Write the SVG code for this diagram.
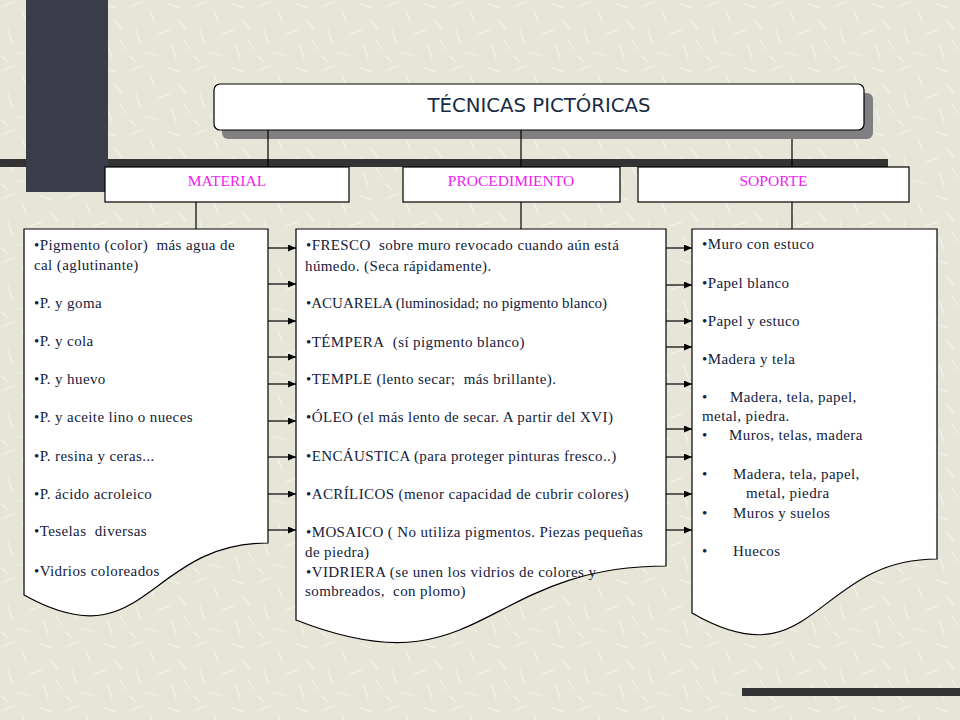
<svg xmlns="http://www.w3.org/2000/svg" width="960" height="720" viewBox="0 0 960 720">
<defs>
<pattern id="tex" width="64" height="64" patternUnits="userSpaceOnUse">
<rect width="64" height="64" fill="#e6e5d8"/>
<g stroke="#f3f2ea" stroke-width="1.3" stroke-linecap="round">
<line x1="4" y1="6" x2="14" y2="2"/>
<line x1="22" y1="10" x2="26" y2="22"/>
<line x1="40" y1="4" x2="52" y2="8"/>
<line x1="8" y1="30" x2="12" y2="42"/>
<line x1="30" y1="34" x2="42" y2="30"/>
<line x1="50" y1="20" x2="58" y2="30"/>
<line x1="18" y1="52" x2="30" y2="56"/>
<line x1="44" y1="46" x2="48" y2="58"/>
<line x1="56" y1="40" x2="62" y2="50"/>
<line x1="2" y1="56" x2="8" y2="62"/>
</g>
</pattern>
<marker id="arr" markerUnits="userSpaceOnUse" markerWidth="8" markerHeight="7" refX="8" refY="3.5" orient="auto">
<path d="M0,0 L8,3.5 L0,7 Z" fill="#000"/>
</marker>
<style>
.box{fill:#fff;stroke:#000;stroke-width:1.2}
.hdr{font-family:"Liberation Serif","Times New Roman",serif;font-size:15.5px;fill:#f01cf0;text-anchor:middle}
.body{font-family:"Liberation Serif","Times New Roman",serif;font-size:15px;fill:#13213b;letter-spacing:0.4px}
.ln{stroke:#000;stroke-width:1.2;fill:none}
.ar{stroke:#000;stroke-width:1.2;fill:none;marker-end:url(#arr)}
</style>
</defs>
<rect width="960" height="720" fill="url(#tex)"/>
<rect x="0" y="159" width="888" height="8" fill="#333333"/>
<rect x="26" y="0" width="82" height="192" fill="#3a3c4a"/>
<rect x="742" y="688" width="218" height="8" fill="#333333"/>

<g id="title">
<rect x="222" y="93" width="651" height="46" rx="6" fill="#808080"/>
<rect x="214" y="84" width="650" height="46" rx="6" class="box"/>
<text x="539" y="112" font-family="'DejaVu Sans',Verdana,sans-serif" font-size="19" fill="#1a2b45" text-anchor="middle" textLength="223" lengthAdjust="spacingAndGlyphs">TÉCNICAS PICTÓRICAS</text>
</g>

<g id="connectors">
<line class="ln" x1="268" y1="130" x2="268" y2="167"/>
<line class="ln" x1="521" y1="130" x2="521" y2="167"/>
<line class="ln" x1="792" y1="139" x2="792" y2="167"/>
<line class="ln" x1="196" y1="202" x2="196" y2="229"/>
<line class="ln" x1="521" y1="202" x2="521" y2="229"/>
<line class="ln" x1="792" y1="202" x2="792" y2="229"/>
<line class="ar" x1="268" y1="248" x2="296" y2="248"/>
<line class="ar" x1="268" y1="284" x2="296" y2="284"/>
<line class="ar" x1="268" y1="321" x2="296" y2="321"/>
<line class="ar" x1="268" y1="357" x2="296" y2="357"/>
<line class="ar" x1="268" y1="384" x2="296" y2="384"/>
<line class="ar" x1="268" y1="421" x2="296" y2="421"/>
<line class="ar" x1="268" y1="457" x2="296" y2="457"/>
<line class="ar" x1="268" y1="494" x2="296" y2="494"/>
<line class="ar" x1="268" y1="530" x2="296" y2="530"/>
<line class="ar" x1="666" y1="248" x2="692" y2="248"/>
<line class="ar" x1="666" y1="285" x2="692" y2="285"/>
<line class="ar" x1="666" y1="321" x2="692" y2="321"/>
<line class="ar" x1="666" y1="347" x2="692" y2="347"/>
<line class="ar" x1="666" y1="384" x2="692" y2="384"/>
<line class="ar" x1="666" y1="429" x2="692" y2="429"/>
<line class="ar" x1="666" y1="457" x2="692" y2="457"/>
<line class="ar" x1="666" y1="494" x2="692" y2="494"/>
<line class="ar" x1="666" y1="530" x2="692" y2="530"/>
</g>

<g id="h-material">
<rect x="105" y="167" width="244" height="35" class="box"/>
<text x="227" y="186" class="hdr">MATERIAL</text>
</g>
<g id="h-procedimiento">
<rect x="403" y="167" width="217" height="35" class="box"/>
<text x="511" y="186" class="hdr">PROCEDIMIENTO</text>
</g>
<g id="h-soporte">
<rect x="638" y="167" width="271" height="35" class="box"/>
<text x="773.5" y="186" class="hdr">SOPORTE</text>
</g>

<g id="material">
<path class="box" d="M24,229 H268 V543 C146,543 146,663 24,595 Z"/>
<text class="body">
<tspan x="34" y="250">•Pigmento (color)&#160; más agua de</tspan>
<tspan x="34" y="270">cal (aglutinante)</tspan>
<tspan x="34" y="308">•P. y goma</tspan>
<tspan x="34" y="346">•P. y cola</tspan>
<tspan x="34" y="384">•P. y huevo</tspan>
<tspan x="34" y="422">•P. y aceite lino o nueces</tspan>
<tspan x="34" y="461">•P. resina y ceras...</tspan>
<tspan x="34" y="499">•P. ácido acroleico</tspan>
<tspan x="34" y="536">•Teselas&#160; diversas</tspan>
<tspan x="34" y="576">•Vidrios coloreados</tspan>
</text>
</g>

<g id="procedimiento">
<path class="box" d="M296,229 H666 V566 C481,566 481,693 296,620 Z"/>
<text class="body">
<tspan x="306" y="250">•FRESCO&#160; sobre muro revocado cuando aún está</tspan>
<tspan x="305" y="271">húmedo. (Seca rápidamente).</tspan>
<tspan x="306" y="308" letter-spacing="0">•ACUARELA (luminosidad; no pigmento blanco)</tspan>
<tspan x="306" y="347">•TÉMPERA&#160; (sí pigmento blanco)</tspan>
<tspan x="306" y="384">•TEMPLE (lento secar;&#160; más brillante).</tspan>
<tspan x="306" y="422">•ÓLEO (el más lento de secar. A partir del XVI)</tspan>
<tspan x="306" y="461">•ENCÁUSTICA (para proteger pinturas fresco..)</tspan>
<tspan x="306" y="499">•ACRÍLICOS (menor capacidad de cubrir colores)</tspan>
<tspan x="306" y="537">•MOSAICO ( No utiliza pigmentos. Piezas pequeñas</tspan>
<tspan x="305" y="557">de piedra)</tspan>
<tspan x="306" y="577">•VIDRIERA (se unen los vidrios de colores y</tspan>
<tspan x="305" y="596">sombreados,&#160; con plomo)</tspan>
</text>
</g>

<g id="soporte">
<path class="box" d="M692,229 H937 V559 C814.5,559 814.5,684 692,613 Z"/>
<text class="body">
<tspan x="702" y="249">•Muro con estuco</tspan>
<tspan x="702" y="288">•Papel blanco</tspan>
<tspan x="702" y="326">•Papel y estuco</tspan>
<tspan x="702" y="364">•Madera y tela</tspan>
<tspan x="702" y="402">•</tspan><tspan x="730" y="402">Madera, tela, papel,</tspan>
<tspan x="702" y="421">metal, piedra.</tspan>
<tspan x="702" y="440">•</tspan><tspan x="729" y="440">Muros, telas, madera</tspan>
<tspan x="702" y="479">•</tspan><tspan x="733" y="479">Madera, tela, papel,</tspan>
<tspan x="746" y="498">metal, piedra</tspan>
<tspan x="702" y="518">•</tspan><tspan x="733" y="518">Muros y suelos</tspan>
<tspan x="702" y="556">•</tspan><tspan x="733" y="556">Huecos</tspan>
</text>
</g>
</svg>
